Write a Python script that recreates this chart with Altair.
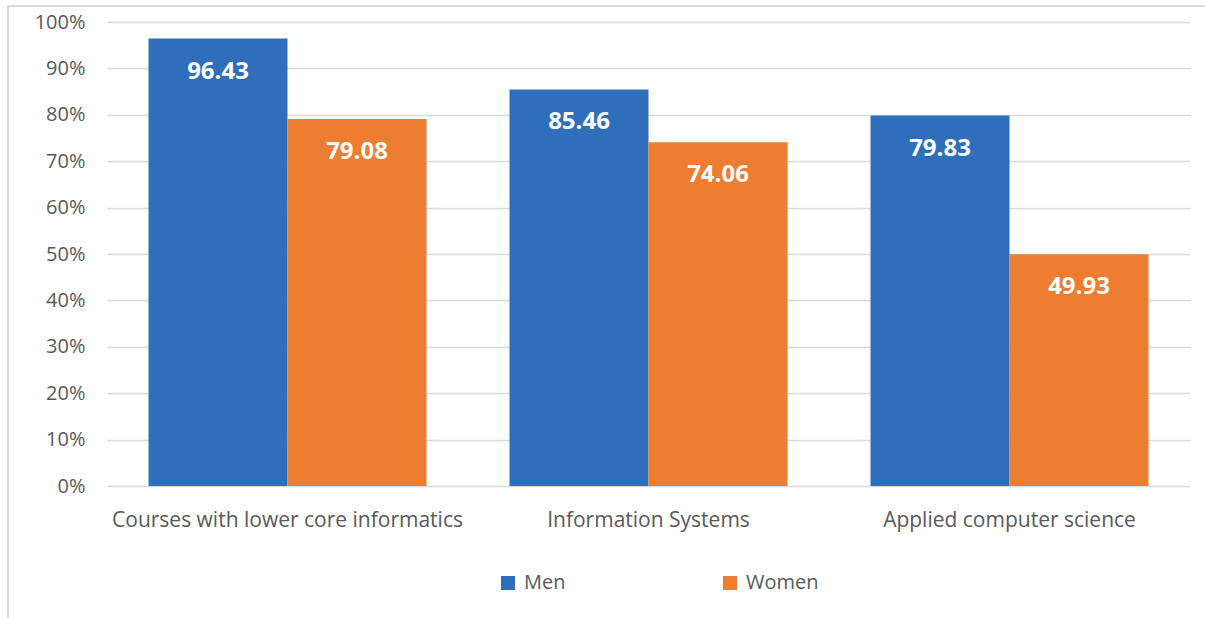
import altair as alt
import pandas as pd

categories = ["Courses with lower core informatics", "Information Systems", "Applied computer science"]
men = [96.43, 85.46, 79.83]
women = [79.08, 74.06, 49.93]
series = ["Men", "Women"]

rows = []
for c, m, w in zip(categories, men, women):
    rows.append({"category": c, "gender": "Men", "value": m})
    rows.append({"category": c, "gender": "Women", "value": w})
df = pd.DataFrame(rows)

FONT = "Open Sans"
GREY = "#595959"

x_enc = alt.X("category:N", sort=categories, title=None,
              scale=alt.Scale(paddingInner=0.23, paddingOuter=0.115),
              axis=alt.Axis(labelAngle=0, labelFontSize=21, labelColor=GREY, labelFont=FONT,
                            labelPadding=23, domain=False, ticks=False, labelLimit=400))
xo = alt.XOffset("gender:N", sort=series, scale=alt.Scale(paddingInner=0, paddingOuter=0))
y_enc = alt.Y("value:Q", title=None,
              scale=alt.Scale(domain=[0, 100], nice=False),
              axis=alt.Axis(values=list(range(0, 101, 10)), labelExpr="datum.value + '%'",
                            labelFontSize=20, labelColor=GREY, labelFont=FONT, labelPadding=22,
                            domain=False, ticks=False, grid=True, gridColor="#d9d9d9", gridWidth=1.5))

bars = alt.Chart(df).mark_bar().encode(
    x=x_enc, xOffset=xo, y=y_enc,
    color=alt.Color("gender:N", sort=series,
                    scale=alt.Scale(domain=series, range=["#2F6EBA", "#ED7D31"]),
                    legend=alt.Legend(title=None, orient="none", legendX=391, legendY=551,
                                      direction="horizontal", symbolType="square", symbolSize=196,
                                      symbolStrokeWidth=0, labelFontSize=20, labelColor=GREY,
                                      labelFont=FONT, columnPadding=154, labelOffset=6)),
)

labels = alt.Chart(df).mark_text(color="white", fontSize=24, fontWeight="bold", font=FONT,
                                 baseline="middle", dy=33).encode(
    x=alt.X("category:N", sort=categories), xOffset=xo,
    y=alt.Y("value:Q"),
    text=alt.Text("value:Q", format=".2f"),
)

border_top = alt.Chart(df).mark_rule(color="#d9d9d9", strokeWidth=2).encode(
    x=alt.value(-99), x2=alt.value(1110), y=alt.value(-16))
border_left = alt.Chart(df).mark_rule(color="#d9d9d9", strokeWidth=2).encode(
    x=alt.value(-99), y=alt.value(-16), y2=alt.value(610))

chart = alt.layer(border_top, border_left, bars, labels).properties(
    width=1083, height=464,
    autosize=alt.AutoSizeParams(type="none"),
    padding={"left": 107, "top": 22, "right": 15, "bottom": 132},
    background="white",
).configure_view(stroke=None)

chart.save("out.html", embed_options={"renderer": "svg", "actions": False})
